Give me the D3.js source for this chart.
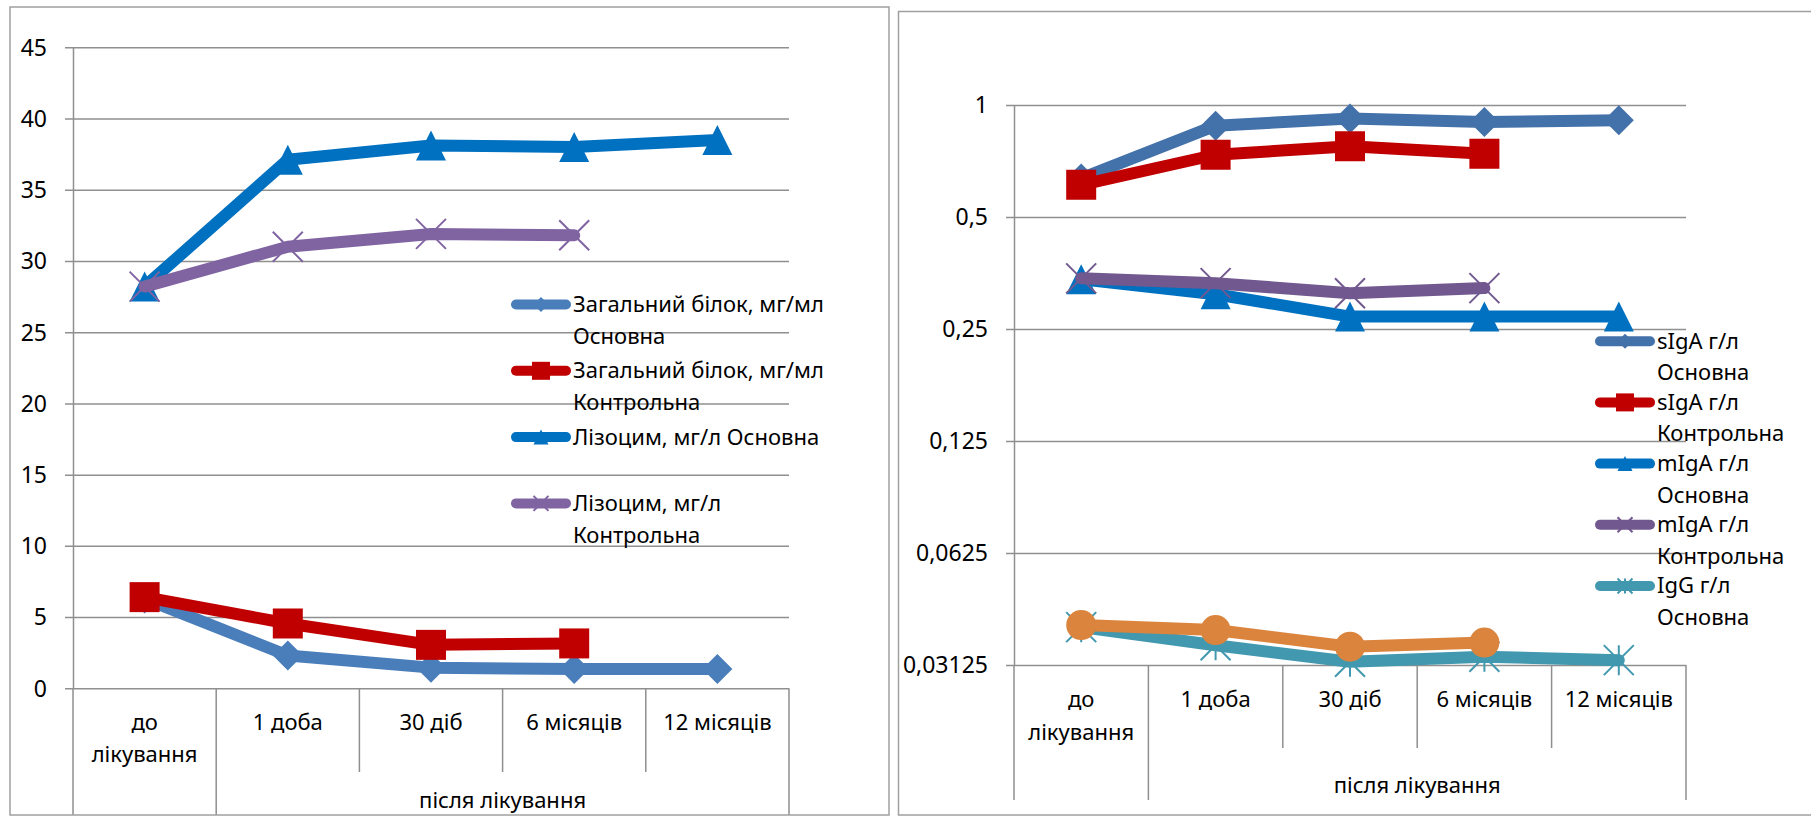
<!DOCTYPE html>
<html>
<head>
<meta charset="utf-8">
<script src="https://cdn.jsdelivr.net/npm/d3@7"></script>
<style>
  html, body { margin: 0; padding: 0; background: #fff; }
  svg { display: block; }
</style>
</head>
<body>
<svg id="chart" width="1811" height="816"></svg>
<script>
// ---- categories (time points) ----
const categories = ["до лікування", "1 доба", "30 діб", "6 місяців", "12 місяців"];
const groupLabel = "після лікування";
const groupFrom = 1;   // first category under the group label
const groupTo = 4;     // last category under the group label

// ---- left chart: total protein (mg/ml) and lysozyme (mg/l) ----
const proteinMain     = [6.3, 2.3, 1.45, 1.35, 1.35];
const proteinControl  = [6.4, 4.55, 3.05, 3.15, null];
const lysozymeMain    = [28.2, 37.1, 38.1, 38.0, 38.5];
const lysozymeControl = [28.2, 31.0, 31.9, 31.8, null];
const leftTicks       = [0, 5, 10, 15, 20, 25, 30, 35, 40, 45];
const leftTickLabels  = ["0", "5", "10", "15", "20", "25", "30", "35", "40", "45"];

// ---- right chart: immunoglobulins (g/l), log2 axis ----
const sigaMain     = [0.635, 0.88, 0.92, 0.90, 0.91];
const sigaControl  = [0.61, 0.735, 0.775, 0.74, null];
const migaMain     = [0.34, 0.31, 0.27, 0.27, 0.27];
const migaControl  = [0.342, 0.332, 0.312, 0.322, null];
const iggMain      = [0.0395, 0.0353, 0.0319, 0.0329, 0.0322];
const iggControl   = [0.0400, 0.0388, 0.0350, 0.0359, null];
const rightTicks      = [0.03125, 0.0625, 0.125, 0.25, 0.5, 1];
const rightTickLabels = ["0,03125", "0,0625", "0,125", "0,25", "0,5", "1"];

const FONT = "'Noto Sans', 'Open Sans', sans-serif";
const FONT_SIZE = 22;
const TICK_FONT_SIZE = 23;
const GRID = "#8f8f8f";
const FRAME = "#a0a0a0";

const svg = d3.select("#chart");
svg.append("rect").attr("width", 1811).attr("height", 816).attr("fill", "#fff");

function markerPath(type, r) {
  switch (type) {
    case "diamond":  return `M0,${-r}L${r},0L0,${r}L${-r},0Z`;
    case "square":   return `M${-r},${-r}H${r}V${r}H${-r}Z`;
    case "triangle": return `M0,${-r}L${r},${r}L${-r},${r}Z`;
    case "circle":   return `M${r},0A${r},${r} 0 1,1 ${-r},0A${r},${r} 0 1,1 ${r},0Z`;
    case "x":        return `M${-r},${-r}L${r},${r}M${-r},${r}L${r},${-r}`;
    case "star":     return `M${-r},${-r}L${r},${r}M${-r},${r}L${r},${-r}M0,${-r}V${r}`;
  }
}
const strokedMarker = t => t === "x" || t === "star";

function drawMarker(sel, type, r, color) {
  sel.append("path")
    .attr("d", markerPath(type, r))
    .attr("fill", strokedMarker(type) ? "none" : color)
    .attr("stroke", strokedMarker(type) ? color : "none")
    .attr("stroke-width", strokedMarker(type) ? 2 : 0);
}

function drawChart(cfg) {
  const root = svg.append("g");
  const clipId = "clip-" + cfg.id;
  root.append("clipPath").attr("id", clipId)
    .append("rect")
    .attr("x", cfg.frame.x).attr("y", cfg.frame.y)
    .attr("width", cfg.frame.w).attr("height", cfg.frame.h);
  const g = root.append("g").attr("clip-path", `url(#${clipId})`);

  const x = d3.scaleBand().domain(categories).range([cfg.left, cfg.right]).padding(0);
  const y = cfg.y;
  const step = x.step();
  const plotW = cfg.right - cfg.left;
  const base = y.range()[0];

  // value axis with full-width gridlines
  const yAxis = d3.axisLeft(y)
    .tickValues(cfg.ticks)
    .tickFormat((d, i) => cfg.tickLabels[i])
    .tickSizeInner(-plotW)
    .tickSizeOuter(0)
    .tickPadding(26);
  const ag = g.append("g")
    .attr("transform", `translate(${cfg.left},0)`)
    .call(yAxis)
    .attr("font-family", FONT)
    .attr("font-size", TICK_FONT_SIZE);
  ag.select(".domain").attr("stroke", GRID).attr("stroke-width", 1.5);
  ag.selectAll(".tick line").attr("x1", -8).attr("stroke", GRID).attr("stroke-width", 1.5);
  ag.selectAll(".tick text").attr("fill", "#000").attr("dy", "0.34em");

  // category boundaries (two-level axis)
  const bounds = d3.range(categories.length + 1);
  g.append("g").selectAll("line").data(bounds).join("line")
    .attr("x1", i => cfg.left + i * step)
    .attr("x2", i => cfg.left + i * step)
    .attr("y1", base)
    .attr("y2", i => (i === 0 || i === groupFrom || i === groupTo + 1) ? cfg.outerBottom : cfg.innerBottom)
    .attr("stroke", GRID).attr("stroke-width", 1.5);

  // category labels, wrapped by word when too wide for the band
  const catG = g.append("g").attr("font-family", FONT).attr("font-size", FONT_SIZE).attr("text-anchor", "middle");
  categories.forEach((c, i) => {
    const t = catG.append("text")
      .attr("x", x(c) + step / 2)
      .attr("y", base + 42);
    const probe = t.text(c).node().getComputedTextLength();
    if (probe > step - 16) {
      t.text(null);
      c.split(" ").forEach((w, k) => {
        t.append("tspan").attr("x", x(c) + step / 2).attr("dy", k === 0 ? 0 : cfg.catLine).text(w);
      });
    }
  });
  catG.append("text")
    .attr("x", cfg.left + step * (groupFrom + groupTo + 1) / 2)
    .attr("y", base + cfg.groupOffset)
    .text(groupLabel);

  // series: line then markers, in series order
  cfg.series.forEach(s => {
    const pts = s.values.map((v, i) => [categories[i], v]).filter(d => d[1] != null);
    const line = d3.line().x(d => x(d[0]) + step / 2).y(d => y(d[1]));
    g.append("path")
      .attr("d", line(pts))
      .attr("fill", "none")
      .attr("stroke", s.color)
      .attr("stroke-width", 12)
      .attr("stroke-linejoin", "round")
      .attr("stroke-linecap", "round");
    pts.forEach(d => {
      const m = g.append("g").attr("transform", `translate(${x(d[0]) + step / 2},${y(d[1])})`);
      drawMarker(m, s.marker, 15, s.color);
    });
  });

  // legend
  const lg = g.append("g").attr("font-family", FONT).attr("font-size", FONT_SIZE);
  cfg.series.filter(s => s.legend !== false).forEach((s, i) => {
    const cy = cfg.legend.y + i * cfg.legend.step;
    lg.append("line")
      .attr("x1", cfg.legend.x + 5).attr("x2", cfg.legend.x + 55)
      .attr("y1", cy).attr("y2", cy)
      .attr("stroke", s.color).attr("stroke-width", 10).attr("stroke-linecap", "round");
    const m = lg.append("g").attr("transform", `translate(${cfg.legend.x + 30},${cy})`);
    drawMarker(m, s.marker, s.marker === "square" ? 9 : 7.5, s.color);
    const t = lg.append("text").attr("x", cfg.legend.x + 62).attr("y", cy);
    s.name.split("\n").forEach((ln, k) => {
      t.append("tspan").attr("x", cfg.legend.x + 62).attr("dy", k === 0 ? "0.34em" : cfg.legend.line).text(ln);
    });
  });

  // chart frame
  root.append("rect")
    .attr("x", cfg.frame.x).attr("y", cfg.frame.y)
    .attr("width", cfg.frame.w).attr("height", cfg.frame.h)
    .attr("fill", "none").attr("stroke", FRAME).attr("stroke-width", 1.5);
}

drawChart({
  id: "left",
  frame: { x: 10, y: 7, w: 879, h: 808 },
  left: 73, right: 789,
  y: d3.scaleLinear().domain([0, 45]).range([688.3, 47.3]),
  ticks: leftTicks, tickLabels: leftTickLabels,
  innerBottom: 772, outerBottom: 816, catLine: 32, groupOffset: 120,
  legend: { x: 511, y: 304.5, step: 66.3, line: 32 },
  series: [
    { name: "Загальний білок, мг/мл\nОсновна",    values: proteinMain,     color: "#4A7EBB", marker: "diamond" },
    { name: "Загальний білок, мг/мл\nКонтрольна", values: proteinControl,  color: "#C00000", marker: "square" },
    { name: "Лізоцим, мг/л Основна",              values: lysozymeMain,    color: "#0070C0", marker: "triangle" },
    { name: "Лізоцим, мг/л\nКонтрольна",          values: lysozymeControl, color: "#8064A2", marker: "x" }
  ]
});

drawChart({
  id: "right",
  frame: { x: 898.5, y: 11.5, w: 1000, h: 803.5 },
  left: 1014, right: 1686,
  y: d3.scaleLog().base(2).domain([0.03125, 1]).range([665, 105]),
  ticks: rightTicks, tickLabels: rightTickLabels,
  innerBottom: 748, outerBottom: 800, catLine: 32.7, groupOffset: 128,
  legend: { x: 1595, y: 341.2, step: 61.2, line: 31.6 },
  series: [
    { name: "sIgA г/л\nОсновна",    values: sigaMain,    color: "#4371A9", marker: "diamond" },
    { name: "sIgA г/л\nКонтрольна", values: sigaControl, color: "#C00000", marker: "square" },
    { name: "mIgA г/л\nОсновна",    values: migaMain,    color: "#0070C0", marker: "triangle" },
    { name: "mIgA г/л\nКонтрольна", values: migaControl, color: "#71588F", marker: "x" },
    { name: "IgG г/л\nОсновна",     values: iggMain,     color: "#4198AF", marker: "star" },
    { name: "IgG г/л\nКонтрольна",  values: iggControl,  color: "#DB843D", marker: "circle", legend: false }
  ]
});
</script>
</body>
</html>
